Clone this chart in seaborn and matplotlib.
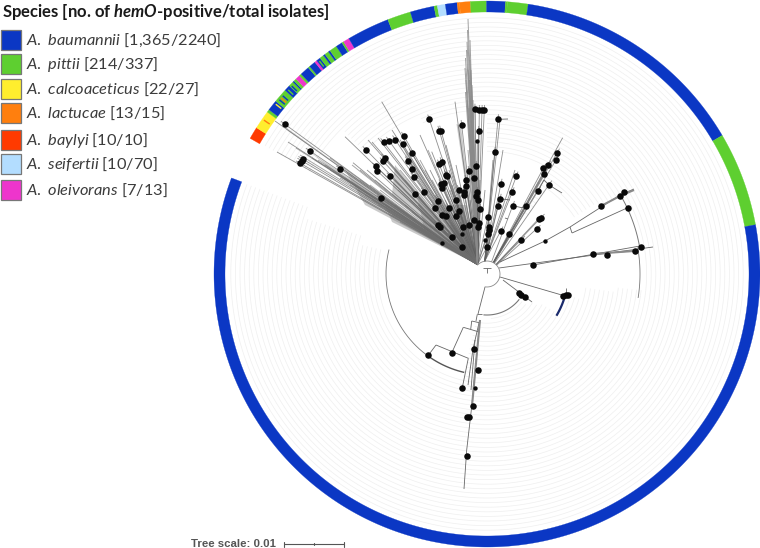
import numpy as np
import pandas as pd
import matplotlib
matplotlib.use("Agg")
import matplotlib.pyplot as plt
from matplotlib.collections import LineCollection
from matplotlib.patches import Polygon, Rectangle
import seaborn as sns

sns.set_theme(style="white")
plt.rcParams.update({
    "font.family": ["Lato", "DejaVu Sans"],
    "mathtext.fontset": "custom",
    "mathtext.rm": "Lato",
    "mathtext.it": "Lato:italic",
    "mathtext.bf": "Lato:bold",
    "mathtext.bfit": "Lato:italic:bold",
})

# ---------- legend ----------
species = ["A. baumannii", "A. pittii", "A. calcoaceticus", "A. lactucae",
           "A. baylyi", "A. seifertii", "A. oleivorans"]
counts = ["[1,365/2240]", "[214/337]", "[22/27]", "[13/15]", "[10/10]", "[10/70]", "[7/13]"]
swatch_top = [30, 54, 79, 103, 130, 154, 180]
colors = ["#0b37c4", "#5ecf30", "#ffee2e", "#ff7f0e", "#ff3a00", "#b3ddff", "#ee35cc"]

# ---------- outer species ring: clockwise boundaries in degrees ----------
ring_edges = [150.2, 147.6, 143.6, 143.0, 140.7, 137.7, 136.4, 135.3, 135.0, 134.4, 133.4,
              132.9, 130.9, 130.5, 129.1, 128.6, 127.7, 126.8, 126.4, 125.5, 125.1, 123.5,
              122.1, 121.7, 120.4, 111.3, 106.3, 101.2, 100.5, 98.8, 96.3, 95.8, 93.5,
              90.1, 86.1, 85.7, 81.3, 30.5, 10.4, -200.6]
ring_species = [4, 2, 1, 0, 1, 0, 1, 0, 1, 6, 1,
                0, 1, 0, 6, 0, 1, 0, 1, 0, 1, 0,
                1, 6, 0, 1, 0, 1, 5, 0, 3, 3,
                1, 0, 1, 1, 0, 1, 0]
stripe_angles = [145.4, 141.2, 140.0, 138.9, 136.1, 139.5, 137.2, 128.2]
stripe_species = [3, 2, 0, 0, 0, 3, 1, 1]

# ---------- tree ----------
dot_x = [475, 479.3, 482, 484.3, 498, 429.3, 439.3, 441, 461.7, 478.7, 404, 383.7, 389.3, 395.3,
         402.7, 494.7, 411.7, 384.7, 383.3, 408, 412, 439.3, 441.7, 476.3, 468.7, 446, 447.3, 474,
         390.3, 413.7, 465.7, 516.3, 557, 556, 548.3, 543.3, 544, 549, 538, 501, 512.3, 444.3, 441,
         442.3, 465.7, 458.7, 464.3, 464.3, 477.3, 476, 477.7, 414.7, 424.3, 381, 438.3, 456.3,
         500, 512.7, 497.7, 526.3, 435.3, 448.7, 480.3, 459, 456, 441.7, 446, 487.7, 474, 479.3,
         477.7, 468.7, 437.7, 440.3, 462.7, 489.3, 489.3, 488, 451.7, 500.7, 509.3, 487.3, 462,
         521.3, 536.7, 538.7, 541, 285, 310, 302.7, 301.7, 300.3, 340.3, 366.3, 376, 377]
dot_y = [108.7, 110, 110, 110, 119.3, 119.3, 130.7, 130.5, 125, 131, 136.3, 142.3, 141, 139.7,
         144, 152, 153.3, 157.7, 161.3, 160.7, 169, 164.3, 162, 166, 171, 175, 176, 178.3,
         176.3, 176.7, 180, 176.3, 153, 160, 165, 168.3, 174, 184.7, 191, 183.7, 192, 183, 184,
         188, 185.7, 190, 191.7, 195, 192.3, 196, 200.3, 193.7, 192, 198.3, 200.7, 200,
         198.7, 205.7, 206.3, 206.3, 208.3, 207.7, 209, 210.7, 215.7, 215.3, 215.7, 217.3, 220.3, 223,
         226.7, 225, 225.3, 227, 227.3, 227.3, 230, 234, 236.7, 231, 233.7, 246.7, 247,
         239.7, 228.7, 218.7, 217.7, 124.3, 151, 159, 160.7, 163.3, 168.7, 150, 166.3, 170.7]

clade_dot_x = [601.3, 620, 624.3, 627.7, 640.7, 634.7, 607, 592.7, 533.3, 519, 521, 525, 563.3,
               566, 568.3, 474, 451.7, 428.3, 478, 462.3, 473.3, 467.3, 469.3, 466.7]
clade_dot_y = [206.3, 195.7, 191.7, 207.7, 246.7, 251.3, 255, 254, 265.3, 293.3, 295.3, 297, 296,
               295.3, 294.7, 349, 353, 355.3, 369.7, 387.7, 406.3, 416.7, 417, 455.7]
small_dot_x = [477.3, 462.3, 485.3, 441.7, 545, 474.7]
small_dot_y = [140.7, 234, 240, 242.7, 241, 388.3]

long_tip_x = [275, 288, 277, 345, 368, 372, 378, 353, 360, 367, 381.7, 431.7, 455, 562.7, 456,
              446, 470, 480, 493, 503, 515, 500, 392, 420, 430, 452, 449, 470, 485]
long_tip_y = [121, 142, 152, 136.7, 140, 142, 138, 162.7, 170, 170, 101.7, 151.7, 101.7, 137.7, 165,
              145, 150, 180, 160, 150, 170, 120, 130, 135, 170, 185, 170, 130, 190]
fan_tip_x = [296, 312, 325, 330, 345, 350, 358, 340, 360, 365, 372, 378, 385, 392, 400, 370, 380,
             386, 395, 405, 398, 410, 418, 425, 430, 420, 412, 400, 395, 405, 418, 425, 432, 420,
             428, 435, 445, 450, 455, 445, 450, 460, 470, 468, 472, 300, 318, 330, 352, 375]
fan_tip_y = [148, 158, 165, 170, 178, 185, 190, 178, 180, 195, 200, 205, 210, 215, 222, 185, 190,
             200, 205, 205, 190, 200, 205, 215, 225, 225, 212, 170, 180, 180, 180, 170, 180, 160,
             150, 195, 200, 225, 230, 165, 190, 215, 200, 150, 175, 155, 160, 158, 165, 180]
spike_tip_x = [468, 467.5, 467, 466.5, 465.5, 465, 466, 465.5, 467, 469, 471, 473, 475, 470, 470,
               472, 471, 469.5, 468, 473]
spike_tip_y = [19, 30, 42, 50, 58, 68, 80, 92, 100, 108, 108, 108, 108, 60, 40,
               85, 70, 80, 70, 100]

wedge_x0 = [284, 310, 402, 395, 381, 456.5, 345, 418, 445]
wedge_y0 = [126, 152, 143, 165, 195, 124, 170, 200, 205]
wedge_x1 = [288, 342, 408, 392, 392, 461, 365, 425, 466]
wedge_y1 = [131, 178, 160, 195, 222, 126, 205, 232, 205]

path_x = [
    [499, 653], [533, 640], [592, 634], [500, 545, 570], [570, 572], [570, 620, 634],
    [572, 627.7], [544, 549, 562], [538, 544], [500, 510], [512.7, 522, 526], [505, 508],
    [498, 508], [500, 561.7], [565.7, 565.7], [485, 478], [477.3, 481.7], [477.3, 476],
    [503, 532], [480, 471.7, 466.7, 464], [479, 473, 468], [475, 471], [471.7, 479.3],
    [471.7, 470.7], [463.3, 478.3], [463.3, 451.7], [436, 468.3], [468.3, 462.3], [436, 428.3],
    [483, 491], [487, 487],
]
path_y = [
    [268, 247], [265, 246], [254, 251], [262, 241, 227], [227, 233], [227, 195, 189],
    [233, 207.7], [180, 185, 193], [191, 180], [198.7, 200], [205.7, 207.7, 206.3], [218, 219],
    [119.3, 119], [277, 295], [288, 296.7], [287, 314], [314.3, 314.3], [314.3, 321],
    [280, 302], [320, 406.7, 450, 489], [323, 349, 385], [340, 390], [321, 322.7],
    [321, 329.3], [327.3, 331.7], [327.3, 353], [345, 358.3], [358.3, 387.7], [345, 355.3],
    [268, 268], [268, 273],
]
heavy_x = [[480, 472], [601, 620, 634], [592, 634]]
heavy_y = [[320, 406], [206, 196, 190], [254, 251]]

# arcs of the tree: radius, from-angle, to-angle
arc_radius = [13, 101, 101, 155, 153, 41, 81]
arc_start = [138, 166, 234, 30.7, 10, -38, -15]
arc_stop = [-100, 234, 257, 10, -9, -95, -31]
arc_width = [0.6, 0.6, 1.0, 0.7, 0.6, 0.8, 1.6]
arc_color = ["#888888", "#777777", "#555555", "#777777", "#777777", "#777777", "#1a2a6c"]

# faint leaf arcs: sector from-angle, to-angle, inner radius
leaf_from = [159.5, 163, 167, 257, 275, 322, 328, 331, 345, 352, -6, 30, 33, 55, 62, 90, 113, 135]
leaf_to = [163, 167, 257, 275, 322, 328, 331, 345, 352, 354, 30, 33, 55, 62, 90, 113, 135, 150]
leaf_rmin = [190, 130, 105, 48, 44, 52, 62, 84, 96, 130, 157, 130, 100, 70, 120, 160, 172, 205]
leaf_radius = list(np.arange(40.0, 259.5, 4.6))

tree_scale_text = "Tree scale: 0.01"
scale_x = [284, 344]
scale_mid = 314
title = r"Species [no. of $\mathbfit{hemO}$-positive/total isolates]"

# ---------- drawing ----------
CX, CY = 487.0, 274.0
R_IN, R_OUT = 262.0, 273.0


def polar(r, deg):
    t = np.radians(deg)
    return CX + r * np.cos(t), CY - r * np.sin(t)


def arc(r, a, b):
    n = max(3, int(abs(b - a)) * 2 + 2)
    return polar(r, np.linspace(a, b, n))


fig = plt.figure(figsize=(7.6, 5.48), dpi=100, facecolor="white")
ax = fig.add_axes([0, 0, 1, 1])
ax.set_xlim(0, 760)
ax.set_ylim(548, 0)
ax.axis("off")

# leaf arcs
segs = []
for a, b, rm in zip(leaf_from, leaf_to, leaf_rmin):
    for r in leaf_radius:
        if r >= rm:
            x, y = arc(r, a, b)
            segs.append(np.column_stack([x, y]))
ax.add_collection(LineCollection(segs, colors="#efefef", linewidths=0.5, zorder=1))

# ring
for i, sp in enumerate(ring_species):
    a, b = ring_edges[i], ring_edges[i + 1]
    xo, yo = arc(R_OUT, a, b)
    xi, yi = arc(R_IN, b, a)
    ax.add_patch(Polygon(np.column_stack([np.r_[xo, xi], np.r_[yo, yi]]),
                         closed=True, fc=colors[sp], ec=colors[sp], lw=0.2, zorder=3))
for ang, sp in zip(stripe_angles, stripe_species):
    xo, yo = arc(R_OUT - 2, ang + 0.15, ang - 0.15)
    xi, yi = arc(R_IN + 2, ang - 0.15, ang + 0.15)
    ax.add_patch(Polygon(np.column_stack([np.r_[xo, xi], np.r_[yo, yi]]),
                         closed=True, fc=colors[sp], ec="none", zorder=4))

# fan spokes
APEX = (477.5, 264.5)


def base_of(x, y):
    th = np.degrees(np.arctan2(CY - y, x - CX))
    if th >= 88:
        return APEX
    if th >= 70:
        return polar(13, 100)
    return polar(13, th)


spokes = []
dot_set = set(zip(dot_x, dot_y))
for x, y in zip(dot_x + long_tip_x + small_dot_x[:4], dot_y + long_tip_y + small_dot_y[:4]):
    bx, by = base_of(x, y)
    d = np.hypot(x - bx, y - by)
    ext = 5.0 if (x, y) in dot_set else 0.0
    spokes.append([(bx, by), (x + (x - bx) / d * ext, y + (y - by) / d * ext)])
ax.add_collection(LineCollection(spokes, colors="#606060", linewidths=0.6, alpha=0.7, zorder=5))

fan = [[APEX, (x, y)] for x, y in zip(fan_tip_x, fan_tip_y)]
ax.add_collection(LineCollection(fan, colors="#6e6e6e", linewidths=0.7, alpha=0.6, zorder=5))

spike = [[APEX, (x, y)] for x, y in zip(spike_tip_x, spike_tip_y)]
ax.add_collection(LineCollection(spike, colors="#8a8a8a", linewidths=0.7, alpha=0.8, zorder=5))

for x0, y0, x1, y1 in zip(wedge_x0, wedge_y0, wedge_x1, wedge_y1):
    ax.add_patch(Polygon([APEX, (x0, y0), (x1, y1)], closed=True, fc="#8a8a8a", ec="none",
                         alpha=0.45, zorder=4))

# clade branches
ax.add_collection(LineCollection([np.column_stack(p) for p in zip(path_x, path_y)],
                                 colors="#666666", linewidths=0.6, zorder=5))
ax.add_collection(LineCollection([np.column_stack(p) for p in zip(heavy_x, heavy_y)],
                                 colors="#8a8a8a", linewidths=1.5, zorder=5))
for r, a, b, w, c in zip(arc_radius, arc_start, arc_stop, arc_width, arc_color):
    x, y = arc(r, a, b)
    ax.plot(x, y, color=c, lw=w, zorder=5, solid_capstyle="butt")

# node dots
nodes = pd.DataFrame({"x": dot_x + clade_dot_x, "y": dot_y + clade_dot_y})
sns.scatterplot(data=nodes, x="x", y="y", ax=ax, color="#0a0a0a", s=22, linewidth=0, zorder=7)
small = pd.DataFrame({"x": small_dot_x, "y": small_dot_y})
sns.scatterplot(data=small, x="x", y="y", ax=ax, color="#0a0a0a", s=10, linewidth=0, zorder=7)
ax.set_xlabel("")
ax.set_ylabel("")
ax.set_xlim(0, 760)
ax.set_ylim(548, 0)

# legend
ax.text(2, 11.5, title, fontsize=11.95, fontweight="bold", color="#1a1a1a", va="center", ha="left")
for name, cnt, top, col in zip(species, counts, swatch_top, colors):
    ax.add_patch(Rectangle((1, top), 19.5, 19.5, fc=col, ec="#777777", lw=0.9, zorder=3))
    lab = r"$\mathit{" + name.replace(" ", r"\ ") + "}$ " + cnt
    ax.text(26, top + 10, lab, fontsize=11.75, color="#3c3c3c", va="center", ha="left")

# tree scale
ax.text(191, 544, tree_scale_text, fontsize=8.2, fontweight="bold", color="#555555",
        family="Liberation Sans", va="center", ha="left")
ax.plot(scale_x, [544, 544], color="#555555", lw=0.8)
for sx, half in zip([scale_x[0], scale_mid, scale_x[1]], [2.5, 1, 2.5]):
    ax.plot([sx, sx], [544 - half, 544 + half], color="#555555", lw=0.8)

fig.savefig("out.png", dpi=100, facecolor="white")
